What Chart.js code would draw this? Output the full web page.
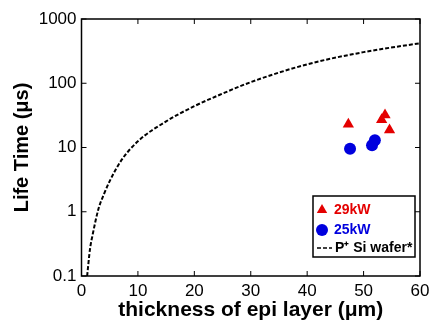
<!DOCTYPE html>
<html>
<head>
<meta charset="utf-8">
<script src="https://cdn.jsdelivr.net/npm/chart.js@4.4.1/dist/chart.umd.min.js"></script>
<style>
  html, body { margin: 0; padding: 0; background: #fff; }
  #wrap { width: 431px; height: 323px; }
</style>
</head>
<body>
<div id="wrap"><canvas id="lifeChart" width="431" height="323"></canvas></div>
<script>
// dashed curve: P+ Si wafer*
const curveX = [1, 1.5, 2, 3, 4, 5, 7, 10, 15, 20, 25, 30, 40, 50, 60];
const curveY = [0.1, 0.26, 0.45, 1.1, 1.9, 3.0, 6.2, 12.5, 25.5, 44, 69, 104, 197, 305, 420];

// 29kW samples (red triangles)
const kw29X = [47.3, 53.8, 53.2, 54.6];
const kw29Y = [23, 32, 27, 18.7];

// 25kW samples (blue circles)
const kw25X = [47.6, 51.5, 52.0];
const kw25Y = [9.6, 10.8, 13.0];

const xTicks = [0, 10, 20, 30, 40, 50, 60];
const yTicks = [0.1, 1, 10, 100, 1000];

const legendLabels = ['29kW', '25kW', 'P\u207A Si wafer*'];

const red = 'rgb(228,0,0)';
const blue = 'rgb(0,0,222)';
const fontFam = '"Liberation Sans", Arial, sans-serif';

const toPoints = (xs, ys) => xs.map((x, i) => ({ x: x, y: ys[i] }));

// box frame, inward ticks, and boxed legend
const frameLegend = {
    id: 'frameLegend',
    afterDraw(chart) {
        const ctx = chart.ctx;
        const a = chart.chartArea;
        const xs = chart.scales.x, ys = chart.scales.y;
        ctx.save();
        ctx.strokeStyle = '#000';
        ctx.lineWidth = 1.5;
        ctx.strokeRect(a.left, a.top, a.right - a.left, a.bottom - a.top);
        ctx.lineWidth = 1;
        const t = 5;
        ctx.beginPath();
        xs.ticks.forEach(tk => {
            const px = xs.getPixelForValue(tk.value);
            ctx.moveTo(px, a.bottom); ctx.lineTo(px, a.bottom - t);
            ctx.moveTo(px, a.top); ctx.lineTo(px, a.top + t);
        });
        ys.ticks.forEach(tk => {
            const py = ys.getPixelForValue(tk.value);
            ctx.moveTo(a.left, py); ctx.lineTo(a.left + t, py);
            ctx.moveTo(a.right, py); ctx.lineTo(a.right - t, py);
        });
        ctx.stroke();

        // legend box
        const bw = 102, bh = 61;
        const bx = a.right - 5 - bw, by = a.bottom - 19 - bh;
        ctx.fillStyle = '#fff';
        ctx.fillRect(bx, by, bw, bh);
        ctx.lineWidth = 1.5;
        ctx.strokeRect(bx, by, bw, bh);

        const ds = chart.data.datasets;
        const rows = [by + 14, by + 34, by + 52];
        ctx.font = 'bold 14px ' + fontFam;
        ctx.textBaseline = 'middle';
        ctx.textAlign = 'left';

        // triangle row
        ctx.fillStyle = red;
        Chart.helpers.drawPoint(ctx, { pointStyle: 'triangle', radius: 6, borderWidth: 0 }, bx + 9, rows[0]);
        ctx.fillText(legendLabels[0], bx + 21, rows[0]);
        // circle row
        ctx.fillStyle = blue;
        Chart.helpers.drawPoint(ctx, { pointStyle: 'circle', radius: 6, borderWidth: 0 }, bx + 9, rows[1]);
        ctx.fillText(legendLabels[1], bx + 21, rows[1]);
        // dashed row
        ctx.strokeStyle = '#000';
        ctx.lineWidth = 1.5;
        ctx.setLineDash(ds[0].borderDash);
        ctx.beginPath();
        ctx.moveTo(bx + 4, rows[2]); ctx.lineTo(bx + 19, rows[2]);
        ctx.stroke();
        ctx.setLineDash([]);
        ctx.fillStyle = '#000';
        ctx.fillText(legendLabels[2], bx + 22, rows[2]);
        ctx.restore();
    }
};

const ctx = document.getElementById('lifeChart').getContext('2d');

const lifeChart = new Chart(ctx, {
    type: 'scatter',
    data: {
        datasets: [
            {
                label: legendLabels[2],
                data: toPoints(curveX, curveY),
                showLine: true,
                borderColor: '#000',
                borderWidth: 2,
                borderDash: [4, 2],
                pointRadius: 0,
                cubicInterpolationMode: 'monotone',
                fill: false
            },
            {
                label: legendLabels[0],
                data: toPoints(kw29X, kw29Y),
                pointStyle: 'triangle',
                pointRadius: 6.5,
                backgroundColor: red,
                borderColor: red,
                borderWidth: 0
            },
            {
                label: legendLabels[1],
                data: toPoints(kw25X, kw25Y),
                pointStyle: 'circle',
                pointRadius: 6,
                backgroundColor: blue,
                borderColor: blue,
                borderWidth: 0
            }
        ]
    },
    options: {
        responsive: false,
        animation: false,
        layout: {
            padding: { left: 0, right: 0, top: 19, bottom: 0 }
        },
        scales: {
            x: {
                type: 'linear',
                min: 0,
                max: 60,
                afterBuildTicks: s => { s.ticks = xTicks.map(v => ({ value: v })); },
                afterFit: s => { s.height = 47; s.paddingRight = 11; s.paddingLeft = 0; },
                grid: { display: false, drawTicks: false },
                border: { display: false },
                ticks: {
                    padding: 5,
                    color: '#000',
                    font: { family: fontFam, size: 17 }
                },
                title: {
                    display: true,
                    text: 'thickness of epi layer (\u03BCm)',
                    color: '#000',
                    padding: { top: 0, bottom: 0 },
                    font: { family: fontFam, size: 21, weight: 'bold' }
                }
            },
            y: {
                type: 'logarithmic',
                min: 0.1,
                max: 1000,
                afterBuildTicks: s => { s.ticks = yTicks.map(v => ({ value: v })); },
                afterFit: s => { s.width = 81.5; },
                grid: { display: false, drawTicks: false },
                border: { display: false },
                ticks: {
                    padding: 5,
                    color: '#000',
                    font: { family: fontFam, size: 17 },
                    callback: v => String(v)
                },
                title: {
                    display: true,
                    text: 'Life Time (\u03BCs)',
                    color: '#000',
                    padding: { top: 10, bottom: 0 },
                    font: { family: fontFam, size: 20, weight: 'bold' }
                }
            }
        },
        plugins: {
            legend: { display: false },
            tooltip: { enabled: false }
        }
    },
    plugins: [frameLegend]
});
</script>
</body>
</html>
